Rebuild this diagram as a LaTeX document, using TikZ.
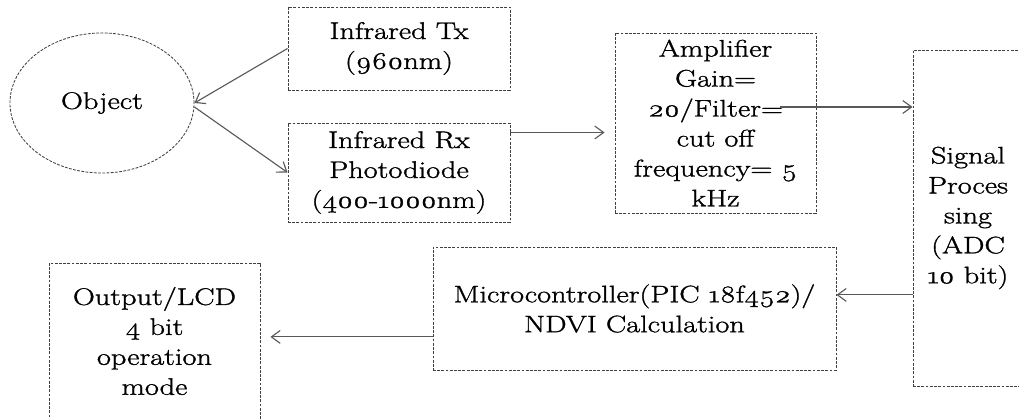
\documentclass[tikz,border=0pt]{standalone}
\usepackage{fontspec}
\setmainfont{Latin Modern Roman}[Numbers=OldStyle, FakeStretch=1.27, FakeBold=1.3]
\usetikzlibrary{positioning}
\usetikzlibrary{shapes.geometric}
\usetikzlibrary{arrows.meta}

\begin{document}
\begin{tikzpicture}[x=0.025cm, y=-0.025cm,
		blk/.style={draw=black!75, line width=0.6pt, dash pattern=on 2pt off 1pt,
			align=center, inner sep=0pt, font=\fontsize{17}{21.3}\selectfont},
		arr/.style={draw=black!65, line width=0.8pt,
			-{Straight Barb[length=2.2mm, width=3.2mm]}}]
	\useasboundingbox (0,0) rectangle (1019,419);
	% blocks
	\node[blk, ellipse, minimum width=4.6cm, minimum height=3.5cm] (obj) at (102,103) {Object};
	\node[blk, minimum width=5.55cm, minimum height=2.075cm] (tx) at (399,48.5) {Infrared Tx\\(960nm)};
	\node[blk, minimum width=5.55cm, minimum height=2.475cm] (rx) at (399,172.5) {Infrared Rx\\Photodiode\\(400-1000nm)};
	\node[blk, minimum width=5.025cm, minimum height=4.5cm] (amp) at (715.5,123) {Amplifier\\Gain=\\20/Filter=\\cut off\\frequency= 5\\kHz};
	\node[blk, minimum width=2.75cm, minimum height=8.4cm] (sig) at (968,218) {Signal\\Proces\\sing\\(ADC\\10 bit)};
	\node[blk, minimum width=10.075cm, minimum height=3.075cm] (mcu) at (634.5,308.5) {Microcontroller(PIC 18f452)/\\NDVI Calculation};
	\node[blk, minimum width=5.275cm, minimum height=3.9cm] (out) at (154.5,341) {Output/LCD\\4 bit\\operation\\mode};
	% connectors
	\draw[arr] (tx.west) -- (obj.east);
	\draw[arr] ([yshift=-0.1cm]obj.east) -- (rx.west);
	\draw[arr] ([yshift=1cm]rx.east) coordinate (r1) -- ([xshift=-0.25cm]r1 -| amp.west);
	\draw[arr] ([xshift=-0.9cm, yshift=0.4cm]amp.east) coordinate (a1) -- (a1 -| sig.west);
	\coordinate (m1) at ([yshift=0.34cm]mcu.east);
	\draw[arr] (m1 -| sig.west) -- (m1);
	\draw[arr] ([yshift=-0.71cm]mcu.west) coordinate (m2) -- ([xshift=0.25cm]m2 -| out.east);
\end{tikzpicture}
\end{document}
